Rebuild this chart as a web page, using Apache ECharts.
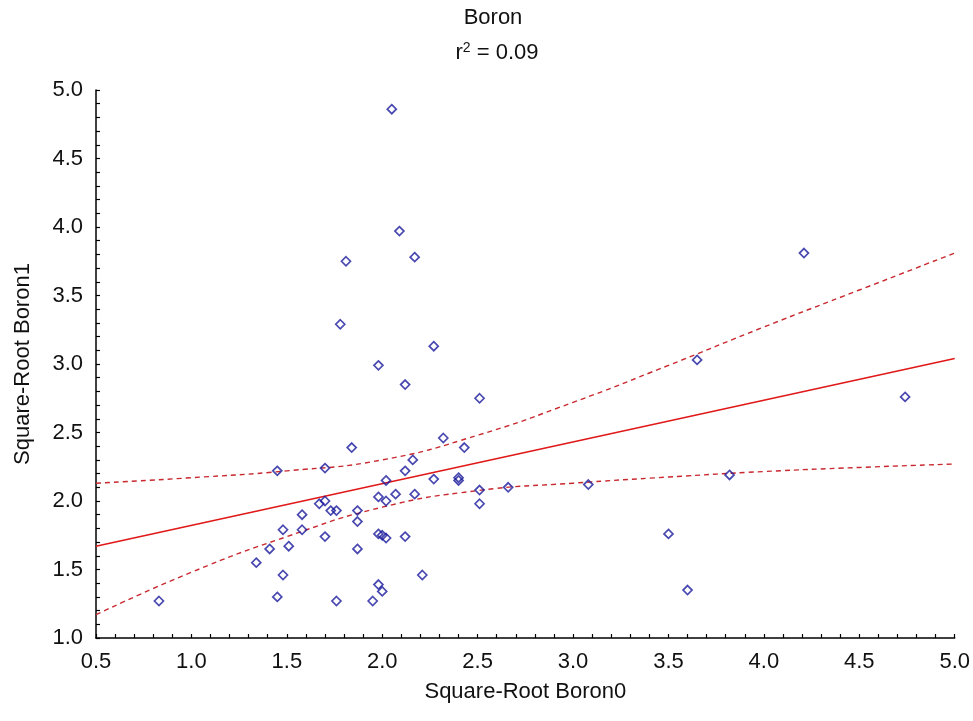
<!DOCTYPE html>
<html>
<head>
<meta charset="utf-8">
<title>Boron</title>
<script src="https://cdn.jsdelivr.net/npm/echarts@6/dist/echarts.min.js"></script>
<style>
  html, body { margin: 0; padding: 0; background: #fff; }
  #chart { width: 973px; height: 721px; }
</style>
</head>
<body>
<div id="chart"></div>
<script>
// Square-root transformed boron, initial (x) vs. follow-up (y)
const boron0 = [
  0.83, 1.45, 1.70, 1.84, 2.32, 2.43, 2.16, 2.12, 2.02, 2.27,
  2.40, 2.40, 2.51, 2.66, 2.51, 2.17, 2.07, 1.98, 2.02, 1.70,
  1.67, 1.73, 1.76, 1.87, 1.87, 1.58, 1.48, 1.58, 1.41, 1.51,
  1.34, 1.48, 1.45, 1.76, 1.70, 1.87, 1.98, 2.00, 2.02, 2.12,
  2.21, 1.98, 2.00, 1.95, 2.05, 2.09, 1.81, 2.17, 1.78, 2.27,
  1.98, 2.12, 2.51, 4.21, 3.65, 4.74, 3.08, 3.82, 3.50, 3.60
];
const boron1 = [
  1.27, 2.22, 2.24, 2.39, 2.46, 2.39, 2.30, 2.22, 2.15, 2.16,
  2.17, 2.15, 2.08, 2.10, 1.98, 2.05, 2.05, 2.03, 2.00, 2.00,
  1.98, 1.93, 1.93, 1.93, 1.85, 1.90, 1.79, 1.79, 1.65, 1.67,
  1.55, 1.46, 1.30, 1.27, 1.74, 1.65, 1.76, 1.75, 1.73, 1.74,
  1.46, 1.39, 1.34, 1.27, 4.86, 3.97, 3.75, 3.78, 3.29, 3.13,
  2.99, 2.85, 2.75, 3.81, 3.03, 2.76, 2.12, 2.19, 1.76, 1.35
];

// Least-squares fit line (end points)
const fitX = [0.5, 5.0];
const fitY = [1.67, 3.04];

// 95% confidence band for the fit
const bandX     = [0.5, 1.0, 1.5, 2.0, 2.5, 3.0, 3.5, 4.0, 4.5, 5.0];
const bandUpper = [2.13, 2.17, 2.22, 2.30, 2.48, 2.72, 2.99, 3.27, 3.54, 3.81];
const bandLower = [1.17, 1.48, 1.74, 1.955, 2.076, 2.13, 2.175, 2.215, 2.245, 2.27];

const titleText = 'Boron';
const r2Text = '0.09';
const xTitle = 'Square-Root Boron0';
const yTitle = 'Square-Root Boron1';

const zip = (a, b) => a.map((v, i) => [v, b[i]]);

const FONT = '"Liberation Sans", Arial, sans-serif';
const INK = '#111';

const chart = echarts.init(document.getElementById('chart'), null, { renderer: 'canvas' });

const axisCommon = {
  type: 'value',
  min: 0,
  max: 0,
  interval: 0.5,
  nameLocation: 'middle',
  nameTextStyle: { color: INK, fontFamily: FONT, fontSize: 22 },
  axisLine: { show: true, onZero: false, lineStyle: { color: '#000', width: 1.5 } },
  axisTick: { show: true, inside: true, length: 4, lineStyle: { color: '#000', width: 1.2 } },
  minorTick: { show: true, splitNumber: 5, length: 4, lineStyle: { color: '#000', width: 1.2 } },
  splitLine: { show: false },
  minorSplitLine: { show: false },
  axisLabel: {
    color: INK, fontFamily: FONT, fontSize: 22, margin: 13,
    formatter: v => v.toFixed(1)
  }
};

chart.setOption({
  animation: false,
  backgroundColor: '#fff',
  grid: { left: 96, right: 16, top: 90, bottom: 83, containLabel: false },
  graphic: [
    {
      type: 'text', x: 493, y: 18,
      style: { text: titleText, font: '22px ' + FONT, fill: INK, align: 'center', verticalAlign: 'middle' }
    },
    {
      type: 'text', x: 497, y: 53,
      style: {
        text: '{b|r}{s|2}{b| = ' + r2Text + '}',
        align: 'center', verticalAlign: 'middle',
        rich: {
          b: { fontFamily: FONT, fontSize: 22, fill: INK, color: INK, lineHeight: 24 },
          s: { fontFamily: FONT, fontSize: 14, fill: INK, color: INK, verticalAlign: 'top', lineHeight: 14 }
        }
      }
    }
  ],
  xAxis: Object.assign({}, axisCommon, {
    min: 0.5, max: 5.0,
    name: xTitle, nameGap: 43
  }),
  yAxis: Object.assign({}, axisCommon, {
    min: 1.0, max: 5.0,
    name: yTitle, nameGap: 62, nameRotate: 90
  }),
  series: [
    {
      type: 'line', data: zip(bandX, bandUpper), smooth: true, symbol: 'none',
      lineStyle: { color: '#c8282e', width: 1.4, type: [5, 4] }, z: 2
    },
    {
      type: 'line', data: zip(bandX, bandLower), smooth: true, symbol: 'none',
      lineStyle: { color: '#c8282e', width: 1.4, type: [5, 4] }, z: 2
    },
    {
      type: 'line', data: zip(fitX, fitY), symbol: 'none',
      lineStyle: { color: '#e01818', width: 1.6 }, z: 3
    },
    {
      type: 'scatter', data: zip(boron0, boron1),
      symbol: 'diamond', symbolSize: 9,
      itemStyle: { color: 'rgba(255,255,255,0)', borderColor: '#1a1a9c', borderWidth: 1.7 },
      z: 4
    }
  ]
});
</script>
</body>
</html>
